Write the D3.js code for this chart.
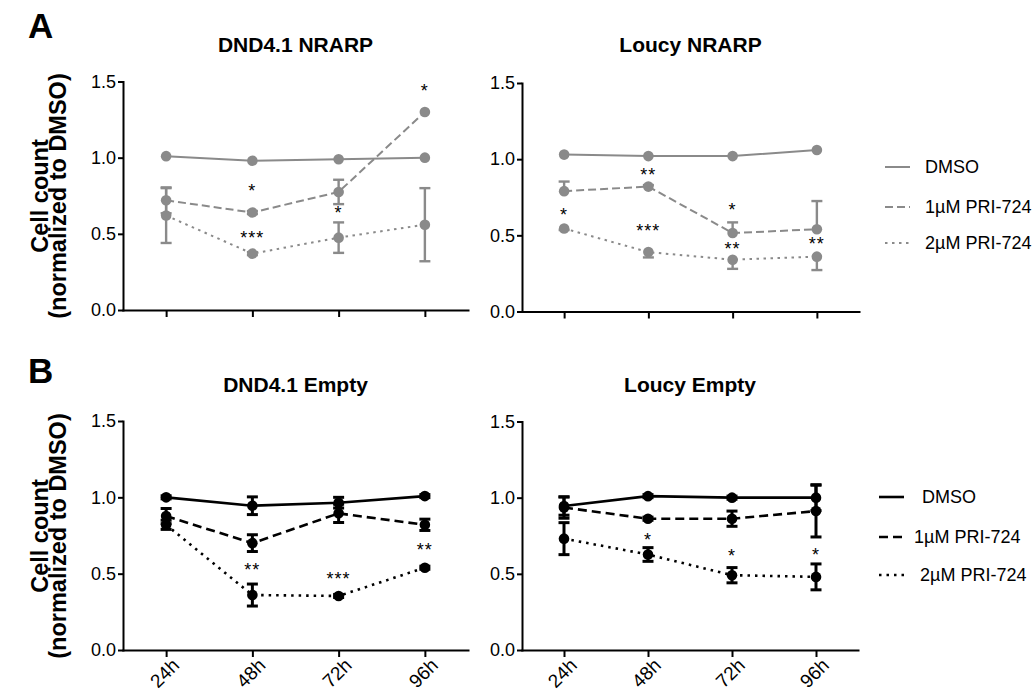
<!DOCTYPE html>
<html>
<head>
<meta charset="utf-8">
<script src="https://cdn.jsdelivr.net/npm/d3@7"></script>
<style>
  body { margin: 0; background: #fff; }
  svg { display: block; font-family: "Liberation Sans", Arial, sans-serif; }
</style>
</head>
<body>
<script>
// time points and series
const times = ['24h', '48h', '72h', '96h'];
const seriesNames = ['DMSO', '1µM PRI-724', '2µM PRI-724'];
const yTicks = [0, 0.5, 1.0, 1.5];

// DND4.1 NRARP  (rows: DMSO, 1uM, 2uM)
const dndNrarpMeans = [
    [1.01, 0.98, 0.99, 1.00],
    [0.72, 0.64, 0.775, 1.30],
    [0.62, 0.37, 0.475, 0.56]
];
const dndNrarpErrs = [
    [0, 0, 0, 0],
    [0.085, 0.01, 0.08, 0],
    [0.18, 0.01, 0.10, 0.24]
];
const dndNrarpStars = [['48h', '*', 0.775], ['48h', '***', 0.47], ['72h', '*', 0.633], ['96h', '*', 1.436]];

// Loucy NRARP
const loucyNrarpMeans = [
    [1.03, 1.02, 1.02, 1.06],
    [0.79, 0.82, 0.515, 0.54],
    [0.545, 0.39, 0.34, 0.36]
];
const loucyNrarpErrs = [
    [0, 0, 0, 0],
    [0.063, 0.01, 0.07, 0.185],
    [0.01, 0.035, 0.06, 0.088]
];
// error bars drawn one way only here: 1uM upwards, 2uM downwards
const loucyNrarpErrDir = ['both', 'up', 'down'];
const loucyNrarpStars = [['24h', '*', 0.629], ['48h', '**', 0.895], ['48h', '***', 0.526],
    ['72h', '*', 0.661], ['72h', '**', 0.404], ['96h', '**', 0.439]];

// DND4.1 Empty
const dndEmptyMeans = [
    [1.00, 0.945, 0.965, 1.008],
    [0.877, 0.70, 0.895, 0.82],
    [0.82, 0.36, 0.354, 0.539]
];
const dndEmptyErrs = [
    [0.01, 0.058, 0.035, 0.01],
    [0.05, 0.055, 0.06, 0.037],
    [0.03, 0.072, 0.01, 0.01]
];
const dndEmptyStars = [['48h', '**', 0.519], ['72h', '***', 0.463], ['96h', '**', 0.648]];

// Loucy Empty
const loucyEmptyMeans = [
    [0.945, 1.01, 1.00, 1.00],
    [0.935, 0.862, 0.862, 0.912],
    [0.731, 0.627, 0.491, 0.48]
];
const loucyEmptyErrs = [
    [0.06, 0.01, 0.01, 0.085],
    [0.07, 0.01, 0.05, 0.17],
    [0.105, 0.045, 0.05, 0.085]
];
const loucyEmptyStars = [['48h', '*', 0.72], ['72h', '*', 0.616], ['96h', '*', 0.622]];

const bothDir = ['both', 'both', 'both'];

const width = 1036;
const height = 694;

const svg = d3.select('body').append('svg')
    .attr('width', width)
    .attr('height', height);

// grey for row A, black for row B
const styleA = { color: '#8a8a8a', lw: 2, dash: [null, '8,4', '2.5,4.5'] };
const styleB = { color: '#000', lw: 2.6, dash: [null, '9,5', '2.5,5'] };

function drawPanel(p) {
    const x = d3.scalePoint().domain(times).range([p.x0, p.x1]).padding(0.5);
    const y = d3.scaleLinear().domain([0, 1.5]).range([p.yb, p.yt]);
    const st = p.style;
    const g = svg.append('g');

    // axes
    const yAxis = g.append('g')
        .attr('transform', `translate(${p.x0},0)`)
        .call(d3.axisLeft(y).tickValues(yTicks).tickFormat(d3.format('.1f'))
            .tickSize(5).tickSizeOuter(0).tickPadding(2));
    const xAxis = g.append('g')
        .attr('transform', `translate(0,${p.yb})`)
        .call(d3.axisBottom(x).tickSize(7).tickSizeOuter(0).tickPadding(3)
            .tickFormat(p.xLabels ? null : ''));
    [yAxis, xAxis].forEach(a => {
        a.select('.domain').attr('stroke', '#000').attr('stroke-width', 2).attr('stroke-linecap', 'square');
        a.selectAll('.tick line').attr('stroke', '#000').attr('stroke-width', 2);
        a.selectAll('text').attr('fill', '#000').style('font-size', '18px')
            .style('font-family', '"Liberation Sans", Arial, sans-serif');
    });
    if (p.xLabels) {
        xAxis.selectAll('.tick text')
            .style('font-size', '19px')
            .attr('text-anchor', 'end')
            .attr('transform', 'rotate(-45)')
            .attr('dx', '-0.1em')
            .attr('dy', '0.6em');
    }

    // lines
    const line = d3.line().x((d, i) => x(times[i])).y(d => y(d));
    p.means.forEach((m, s) => {
        g.append('path')
            .datum(m)
            .attr('fill', 'none')
            .attr('stroke', st.color)
            .attr('stroke-width', st.lw)
            .attr('stroke-dasharray', st.dash[s])
            .attr('d', line);
    });

    // error bars
    p.means.forEach((m, s) => {
        const dir = p.errDir[s];
        m.forEach((v, i) => {
            const e = p.errs[s][i];
            if (!e) return;
            const cx = x(times[i]);
            const lo = dir === 'up' ? v : v - e;
            const hi = dir === 'down' ? v : v + e;
            const eg = g.append('g').attr('stroke', st.color).attr('stroke-width', st.lw + 0.4);
            eg.append('line').attr('x1', cx).attr('x2', cx).attr('y1', y(lo)).attr('y2', y(hi));
            const caps = dir === 'up' ? [hi] : dir === 'down' ? [lo] : [lo, hi];
            caps.forEach(b => {
                eg.append('line').attr('x1', cx - 5.5).attr('x2', cx + 5.5).attr('y1', y(b)).attr('y2', y(b));
            });
        });
    });

    // markers
    p.means.forEach(m => {
        g.selectAll(null)
            .data(m)
            .enter()
            .append('circle')
            .attr('cx', (d, i) => x(times[i]))
            .attr('cy', d => y(d))
            .attr('r', 5.3)
            .attr('fill', st.color);
    });

    // significance stars
    g.selectAll(null)
        .data(p.stars)
        .enter()
        .append('text')
        .attr('x', d => x(d[0]))
        .attr('y', d => y(d[2]))
        .attr('dy', '0.3em')
        .attr('text-anchor', 'middle')
        .style('font-size', '18px')
        .style('letter-spacing', '1px')
        .attr('fill', '#000')
        .text(d => d[1]);

    // title
    g.append('text')
        .attr('x', (p.x0 + p.x1) / 2)
        .attr('y', p.titleY)
        .attr('text-anchor', 'middle')
        .style('font-size', '21px')
        .style('font-weight', 'bold')
        .text(p.title);

    // legend
    if (p.legend) {
        seriesNames.forEach((name, s) => {
            const ly = p.legend.ys[s];
            g.append('line')
                .attr('x1', p.legend.x).attr('x2', p.legend.x + 25)
                .attr('y1', ly).attr('y2', ly)
                .attr('stroke', st.color)
                .attr('stroke-width', st.lw)
                .attr('stroke-dasharray', st.dash[s]);
            g.append('text')
                .attr('x', p.legend.tx[s])
                .attr('y', ly)
                .attr('dy', '0.35em')
                .style('font-size', '18px')
                .text(name);
        });
    }
}

drawPanel({ title: 'DND4.1 NRARP', x0: 123, x1: 468, yt: 81.5, yb: 310, titleY: 52,
    means: dndNrarpMeans, errs: dndNrarpErrs, errDir: bothDir, stars: dndNrarpStars, style: styleA, xLabels: false });
drawPanel({ title: 'Loucy NRARP', x0: 522, x1: 859, yt: 83, yb: 311.5, titleY: 52,
    means: loucyNrarpMeans, errs: loucyNrarpErrs, errDir: loucyNrarpErrDir, stars: loucyNrarpStars, style: styleA, xLabels: false,
    legend: { x: 885, tx: [925, 925, 925], ys: [167, 207, 243] } });
drawPanel({ title: 'DND4.1 Empty', x0: 123, x1: 468, yt: 421, yb: 650, titleY: 392,
    means: dndEmptyMeans, errs: dndEmptyErrs, errDir: bothDir, stars: dndEmptyStars, style: styleB, xLabels: true });
drawPanel({ title: 'Loucy Empty', x0: 522, x1: 858, yt: 421.5, yb: 650, titleY: 392,
    means: loucyEmptyMeans, errs: loucyEmptyErrs, errDir: bothDir, stars: loucyEmptyStars, style: styleB, xLabels: true,
    legend: { x: 879, tx: [922, 914, 920], ys: [497, 537, 575] } });

// y axis titles
[[196, 'A', 38], [536, 'B', 383]].forEach(([cy, letter, ly]) => {
    const t = svg.append('text')
        .attr('transform', `translate(0,${cy}) rotate(-90)`)
        .attr('text-anchor', 'middle')
        .style('font-size', '23.5px')
        .style('font-weight', 'bold');
    t.append('tspan').attr('x', 0).attr('y', 48).text('Cell count');
    t.append('tspan').attr('x', 0).attr('y', 66).text('(normalized to DMSO)');

    // panel letter
    svg.append('text')
        .attr('x', 28)
        .attr('y', ly)
        .style('font-size', '35px')
        .style('font-weight', 'bold')
        .text(letter);
});
</script>
</body>
</html>
